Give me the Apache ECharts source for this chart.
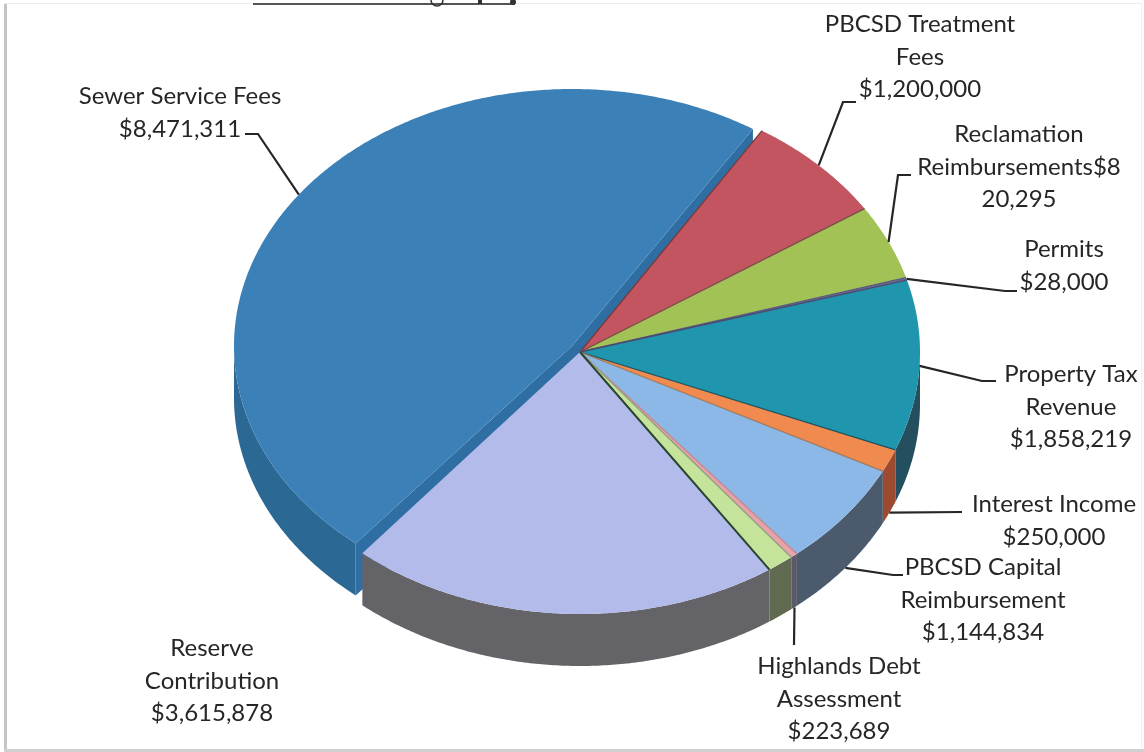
<!DOCTYPE html>
<html>
<head>
<meta charset="utf-8">
<style>html,body{margin:0;padding:0;background:#fff}#chart{width:1144px;height:752px}</style>
<script src="https://cdn.jsdelivr.net/npm/echarts@6/dist/echarts.min.js"></script>
</head>
<body>
<div id="chart"></div>
<script>
// Revenue sources, clockwise from the large slice at upper left.
const categories = ['Sewer Service Fees', 'PBCSD Treatment Fees', 'Reclamation Reimbursements', 'Permits',
  'Property Tax Revenue', 'Interest Income', 'PBCSD Capital Reimbursement', 'Unlabelled', 'Highlands Debt Assessment', 'Reserve Contribution'];
const revenue = [8471311, 1200000, 820295, 28000, 1858219, 250000, 1144834, 60000, 223689, 3615878];
const labelLines = [
  ['Sewer Service Fees', '$8,471,311'],
  ['PBCSD Treatment', 'Fees', '$1,200,000'],
  ['Reclamation', 'Reimbursements$8', '20,295'],
  ['Permits', '$28,000'],
  ['Property Tax', 'Revenue', '$1,858,219'],
  ['Interest Income', '$250,000'],
  ['PBCSD Capital', 'Reimbursement', '$1,144,834'],
  [],
  ['Highlands Debt', 'Assessment', '$223,689'],
  ['Reserve', 'Contribution', '$3,615,878']
];

// Palette: top face, side wall, and the thin line along each slice's leading edge.
const topColors = ['#3c80b8', '#c2555f', '#a2c255', '#6a6a8c', '#1f96ad', '#f08a4e', '#8cb8e8', '#e8a2aa', '#c6e39c', '#b3bbea'];
const wallColors = ['#2b6894', '#8a3c44', '#71883c', '#50506a', '#234f5e', '#9c4a30', '#4c5a6e', '#5c5a68', '#5f6a50', '#636368'];
const edgeColors = [null, '#7a3a3a', '#7a4a4a', '#5a5a80', '#4a4a70', '#1c5260', '#a07a5a', '#c08a90', '#90a080', '#28452f'];

// Label placement: centre of each text block, and the leader's bend points.
const labelCenters = [[180, 113], [920, 57], [1019, 167], [1064, 266], [1071, 407], [1054, 521], [983, 600], null, [839, 699], [212, 681]];
const leaderBends = [
  [[258, 134], [245, 134]],
  [[843, 102], [856, 102]],
  [[898, 175], [911, 175]],
  [[1005, 291], [1017, 291]],
  [[982, 381], [996, 381]],
  [[962, 512]],
  [[893, 575], [903, 575]],
  null,
  [[794, 645]],
  null
];
const anchorNudge = { 8: [14, -8] };

// Pie geometry: ellipse of the top face, wall depth, and the pulled-out first slice.
const CX = 580, CY = 352, RX = 340, RY = 262, DEPTH = 52;
const PULLED = 0, PULL_DX = -8, PULL_DY = -6, PULL_RX = -2, PULL_RY = -5;
const START = 230.2;

const total = revenue.reduce((a, b) => a + b, 0);
let cursor = START;
const spans = revenue.map(v => {
  const from = cursor;
  cursor -= v / total * 360;
  return [from, cursor];
});

function ellipse(i) {
  return i === PULLED
    ? { cx: CX + PULL_DX, cy: CY + PULL_DY, rx: RX + PULL_RX, ry: RY + PULL_RY }
    : { cx: CX, cy: CY, rx: RX, ry: RY };
}
function rim(e, deg, drop) {
  const r = deg * Math.PI / 180;
  return [e.cx + e.rx * Math.cos(r), e.cy - e.ry * Math.sin(r) + (drop || 0)];
}
function arc(e, from, to, drop) {
  const pts = [];
  const n = Math.max(2, Math.ceil(Math.abs(from - to) * 2));
  for (let k = 0; k <= n; k++) pts.push(rim(e, from + (to - from) * k / n, drop));
  return pts;
}

function renderSlice(params) {
  const i = params.dataIndex;
  const [from, to] = spans[i];
  const e = ellipse(i);
  const children = [];

  // Side wall: only the part of the rim that faces the viewer.
  const front = arc(e, from, to).filter(p => p[1] >= e.cy - 0.01);
  if (front.length > 1) {
    const lower = front.map(p => [p[0], p[1] + DEPTH]).reverse();
    children.push({ type: 'polygon', shape: { points: front.concat(lower) }, style: { fill: wallColors[i] }, silent: true });
  }

  // The pulled slice shows its two cut faces through the gap.
  if (i === PULLED) {
    const a = [e.cx, e.cy];
    [rim(e, from), rim(e, to)].forEach(c => {
      children.push({
        type: 'polygon',
        shape: { points: [a, c, [c[0], c[1] + DEPTH], [a[0], a[1] + DEPTH]] },
        style: { fill: '#2f6ea3' }, silent: true
      });
    });
  }

  // Top face.
  children.push({
    type: 'polygon',
    shape: { points: [[e.cx, e.cy]].concat(arc(e, from, to)) },
    style: { fill: topColors[i] }, silent: true
  });
  if (edgeColors[i]) {
    const end = rim(e, from);
    children.push({
      type: 'line',
      shape: { x1: e.cx, y1: e.cy, x2: end[0], y2: end[1] },
      style: { stroke: edgeColors[i], lineWidth: i === 9 ? 2 : 1.3 }, silent: true
    });
  }

  // Leader from the slice's rim to its label.
  if (leaderBends[i]) {
    const mid = (from + to) / 2;
    const sinMid = Math.sin(mid * Math.PI / 180);
    const start = rim(e, mid, sinMid < -0.1 ? DEPTH : 0);
    const nudge = anchorNudge[i] || [0, 0];
    children.push({
      type: 'polyline',
      shape: { points: [[start[0] + nudge[0], start[1] + nudge[1]]].concat(leaderBends[i]) },
      style: { stroke: '#262626', lineWidth: 2.2, fill: null }, silent: true
    });
  }

  // Label text.
  if (labelCenters[i]) {
    children.push({
      type: 'text',
      x: labelCenters[i][0], y: labelCenters[i][1],
      style: {
        text: labelLines[i].join('\n'),
        fill: '#262626',
        font: '24px Lato, "Open Sans", sans-serif',
        lineHeight: 32.6,
        align: 'center', verticalAlign: 'middle'
      },
      silent: true
    });
  }
  return { type: 'group', children };
}

const chart = echarts.init(document.getElementById('chart'), null, { renderer: 'canvas' });
chart.setOption({
  animation: false,
  backgroundColor: '#fff',
  tooltip: { show: false },
  series: [{
    type: 'custom',
    name: 'Revenue',
    coordinateSystem: 'none',
    silent: true,
    data: revenue.map((v, i) => ({ name: categories[i], value: v })),
    renderItem: renderSlice
  }],
  graphic: [
    // Frame of the page the chart sits on.
    { type: 'rect', shape: { x: 4, y: 3, width: 3, height: 746 }, style: { fill: '#c4c4c4' }, silent: true },
    { type: 'rect', shape: { x: 4, y: 3, width: 1137, height: 1 }, style: { fill: '#ececec' }, silent: true },
    { type: 'rect', shape: { x: 1141, y: 3, width: 1, height: 746 }, style: { fill: '#efefef' }, silent: true },
    { type: 'rect', shape: { x: 4, y: 749, width: 1140, height: 3 }, style: { fill: '#d0d0d0' }, silent: true },
    // Underline of the heading cut off by the top of the page.
    { type: 'rect', shape: { x: 253, y: 3, width: 262, height: 2 }, style: { fill: '#555' }, silent: true },
    { type: 'circle', shape: { cx: 437, cy: 0, r: 6 }, style: { fill: 'none', stroke: '#333', lineWidth: 1.5 }, silent: true },
    { type: 'rect', shape: { x: 478, y: 0, width: 4, height: 4 }, style: { fill: '#333' }, silent: true },
    { type: 'circle', shape: { cx: 513, cy: 2, r: 3 }, style: { fill: '#333' }, silent: true }
  ]
});
</script>
</body>
</html>
